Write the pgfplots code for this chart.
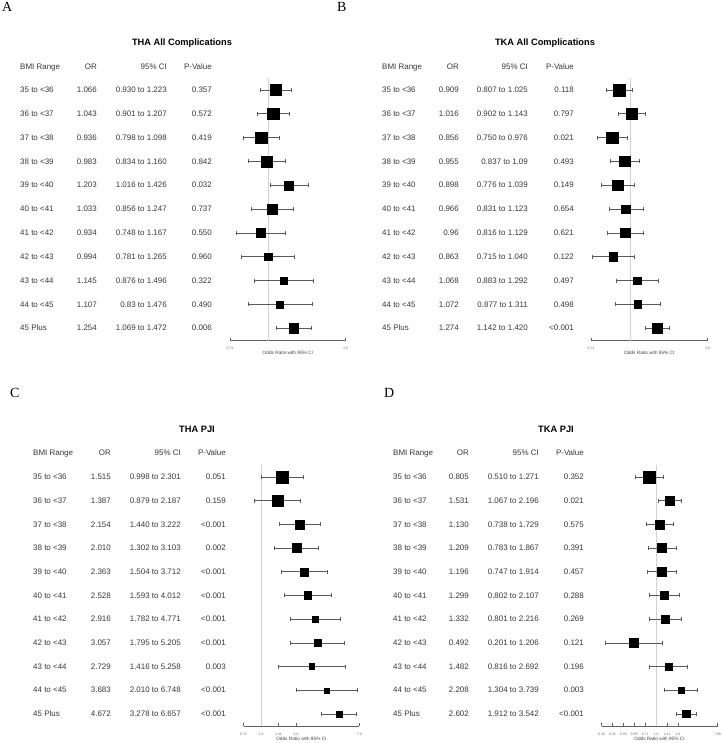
\documentclass[border=0pt]{standalone}
\usepackage{fontspec}
\setmainfont{Liberation Sans}
\newfontfamily\panelfont{Liberation Serif}
\usepackage{pgfplots}
\pgfplotsset{compat=1.18}
\usepackage{pgfplotstable}
\definecolor{txt}{HTML}{383838}
\definecolor{cil}{HTML}{5A5A5A}
\definecolor{refl}{HTML}{D2D2D2}
\definecolor{axl}{HTML}{606060}
\newcommand\fs[1]{\fontsize{#1}{#1}\selectfont}
\newcommand\setcols[4]{\def\ca{#1}\def\cb{#2}\def\cc{#3}\def\cd{#4}}
\newcommand\trow[5]{%
 \node[anchor=mid west,inner sep=0pt,text=txt,font=\fs{8}] at (\ca bp,{743bp-#1bp}) {#2};
 \node[anchor=mid east,inner sep=0pt,text=txt,font=\fs{8}] at (\cb bp,{743bp-#1bp}) {#3};
 \node[anchor=mid east,inner sep=0pt,text=txt,font=\fs{8}] at (\cc bp,{743bp-#1bp}) {#4};
 \node[anchor=mid east,inner sep=0pt,text=txt,font=\fs{8}] at (\cd bp,{743bp-#1bp}) {#5};}

% y = 12 - row ; s = square side (px)
\pgfplotstableread{
y or lo hi s
11 1.066 0.930 1.223 11.7
10 1.043 0.901 1.207 11.7
9 0.936 0.798 1.098 12.0
8 0.983 0.834 1.160 11.7
7 1.203 1.016 1.426 9.3
6 1.033 0.856 1.247 9.7
5 0.934 0.748 1.167 9.3
4 0.994 0.781 1.265 8.0
3 1.145 0.876 1.496 7.0
2 1.107 0.830 1.476 7.0
1 1.254 1.069 1.472 10.0
}\tA
\pgfplotstableread{
y or lo hi s
11 0.909 0.807 1.025 12.7
10 1.016 0.902 1.143 11.3
9 0.856 0.750 0.976 12.0
8 0.955 0.837 1.090 10.7
7 0.898 0.776 1.039 10.7
6 0.966 0.831 1.123 9.3
5 0.960 0.816 1.129 9.7
4 0.863 0.715 1.040 9.0
3 1.068 0.883 1.292 7.7
2 1.072 0.877 1.311 8.0
1 1.274 1.142 1.420 10.3
}\tB
\pgfplotstableread{
y or lo hi s
11 1.515 0.998 2.301 12.3
10 1.387 0.879 2.187 11.7
9 2.154 1.440 3.222 9.3
8 2.010 1.302 3.103 9.3
7 2.363 1.504 3.712 8.3
6 2.528 1.593 4.012 8.0
5 2.916 1.782 4.771 6.7
4 3.057 1.795 5.205 7.0
3 2.729 1.416 5.258 6.3
2 3.683 2.010 6.748 5.3
1 4.672 3.278 6.657 6.7
}\tC
\pgfplotstableread{
y or lo hi s
11 0.805 0.510 1.271 12.3
10 1.531 1.067 2.196 9.3
9 1.130 0.738 1.729 9.7
8 1.209 0.783 1.867 9.3
7 1.196 0.747 1.914 9.0
6 1.299 0.802 2.107 8.7
5 1.332 0.801 2.216 8.3
4 0.492 0.201 1.206 10.0
3 1.482 0.816 2.692 7.0
2 2.208 1.304 3.739 5.7
1 2.602 1.912 3.542 7.7
}\tD

\pgfplotsset{myforest/.style={scale only axis, anchor=south west,
  ymin=0.48, ymax=11.5, axis x line*=bottom, axis y line=none, clip=false,
  xminorticks=false, ytick=\empty,
  axis line style={draw=axl, line width=0.6bp},
  xtick style={draw=axl, line width=0.5bp}, xtick align=inside, major tick length=3bp,
  xticklabel style={font=\fs{3.5}, text=black!60, inner sep=0pt, anchor=north, yshift=-6.3bp},
  xlabel={Odds Ratio with 95\% CI},
  xlabel style={font=\fs{4.75}, text=black!75, inner sep=0pt, anchor=center,
    at={(axis description cs:0.5,0)}, yshift=-12.5bp}},
 myci/.style={only marks, mark=none, forget plot,
  error bars/x dir=both, error bars/x explicit, error bars/error mark=none,
  error bars/error bar style={draw=cil, line width=0.7bp}},
 mycap/.style={only marks, mark=|, mark size=2bp, forget plot,
  mark options={draw=cil, line width=0.6bp}},
 mysq/.style={scatter, only marks, mark=square*,
  scatter/use mapped color={draw=black, fill=black},
  point meta=\thisrow{s},
  visualization depends on={\thisrow{s}/2-0.2 \as \hs},
  scatter/@pre marker code/.append style={/tikz/mark size=\hs bp}}}

\newcommand\drawforest[1]{%
 \addplot[refl, line width=0.7bp, forget plot] coordinates {(1,0.48) (1,11.5)};
 \addplot[myci] table[x=or, y=y, x error plus expr=\thisrow{hi}-\thisrow{or},
   x error minus expr=\thisrow{or}-\thisrow{lo}] {#1};
 \addplot[mycap] table[x=lo, y=y] {#1};
 \addplot[mycap] table[x=hi, y=y] {#1};
 \addplot[mysq] table[x=or, y=y] {#1};}

\begin{document}
\begin{tikzpicture}
\useasboundingbox (0,0) rectangle (723bp,743bp);

% panel letters
\node[anchor=base west,inner sep=0pt,font=\panelfont\fs{14}] at (2bp,{743bp-11.7bp}) {A};
\node[anchor=base west,inner sep=0pt,font=\panelfont\fs{14}] at (337bp,{743bp-11.7bp}) {B};
\node[anchor=base west,inner sep=0pt,font=\panelfont\fs{14}] at (10bp,{743bp-398bp}) {C};
\node[anchor=base west,inner sep=0pt,font=\panelfont\fs{14}] at (384bp,{743bp-398bp}) {D};

% titles
\node[anchor=mid,inner sep=0pt,font=\bfseries\fs{9.3}] at (182bp,{743bp-43bp}) {THA All Complications};
\node[anchor=mid,inner sep=0pt,font=\bfseries\fs{9.3}] at (545bp,{743bp-43bp}) {TKA All Complications};
\node[anchor=mid,inner sep=0pt,font=\bfseries\fs{9.3}] at (197bp,{743bp-430bp}) {THA PJI};
\node[anchor=mid,inner sep=0pt,font=\bfseries\fs{9.3}] at (556bp,{743bp-430bp}) {TKA PJI};

% Panel A text
\setcols{20}{97}{167}{212}
\trow{67}{BMI Range}{OR}{95\% CI}{P-Value}
\trow{90}{35 to <36}{1.066}{0.930 to 1.223}{0.357}
\trow{113.8}{36 to <37}{1.043}{0.901 to 1.207}{0.572}
\trow{137.7}{37 to <38}{0.936}{0.798 to 1.098}{0.419}
\trow{161.5}{38 to <39}{0.983}{0.834 to 1.160}{0.842}
\trow{185.3}{39 to <40}{1.203}{1.016 to 1.426}{0.032}
\trow{209.2}{40 to <41}{1.033}{0.856 to 1.247}{0.737}
\trow{233}{41 to <42}{0.934}{0.748 to 1.167}{0.550}
\trow{256.8}{42 to <43}{0.994}{0.781 to 1.265}{0.960}
\trow{280.6}{43 to <44}{1.145}{0.876 to 1.496}{0.322}
\trow{304.5}{44 to <45}{1.107}{0.83 to 1.476}{0.490}
\trow{328.3}{45 Plus}{1.254}{1.069 to 1.472}{0.006}

% Panel B text
\setcols{382}{459}{528}{574}
\trow{67}{BMI Range}{OR}{95\% CI}{P-Value}
\trow{90}{35 to <36}{0.909}{0.807 to 1.025}{0.118}
\trow{113.8}{36 to <37}{1.016}{0.902 to 1.143}{0.797}
\trow{137.7}{37 to <38}{0.856}{0.750 to 0.976}{0.021}
\trow{161.5}{38 to <39}{0.955}{0.837 to 1.09}{0.493}
\trow{185.3}{39 to <40}{0.898}{0.776 to 1.039}{0.149}
\trow{209.2}{40 to <41}{0.966}{0.831 to 1.123}{0.654}
\trow{233}{41 to <42}{0.96}{0.816 to 1.129}{0.621}
\trow{256.8}{42 to <43}{0.863}{0.715 to 1.040}{0.122}
\trow{280.6}{43 to <44}{1.068}{0.883 to 1.292}{0.497}
\trow{304.5}{44 to <45}{1.072}{0.877 to 1.311}{0.498}
\trow{328.3}{45 Plus}{1.274}{1.142 to 1.420}{<0.001}

% Panel C text
\setcols{33}{111}{181}{226}
\trow{453}{BMI Range}{OR}{95\% CI}{P-Value}
\trow{477}{35 to <36}{1.515}{0.998 to 2.301}{0.051}
\trow{500.7}{36 to <37}{1.387}{0.879 to 2.187}{0.159}
\trow{524.4}{37 to <38}{2.154}{1.440 to 3.222}{<0.001}
\trow{548.1}{38 to <39}{2.010}{1.302 to 3.103}{0.002}
\trow{571.8}{39 to <40}{2.363}{1.504 to 3.712}{<0.001}
\trow{595.5}{40 to <41}{2.528}{1.593 to 4.012}{<0.001}
\trow{619.2}{41 to <42}{2.916}{1.782 to 4.771}{<0.001}
\trow{642.9}{42 to <43}{3.057}{1.795 to 5.205}{<0.001}
\trow{666.6}{43 to <44}{2.729}{1.416 to 5.258}{0.003}
\trow{690.3}{44 to <45}{3.683}{2.010 to 6.748}{<0.001}
\trow{714}{45 Plus}{4.672}{3.278 to 6.657}{<0.001}

% Panel D text
\setcols{393}{469}{539}{584}
\trow{453}{BMI Range}{OR}{95\% CI}{P-Value}
\trow{477}{35 to <36}{0.805}{0.510 to 1.271}{0.352}
\trow{500.7}{36 to <37}{1.531}{1.067 to 2.196}{0.021}
\trow{524.4}{37 to <38}{1.130}{0.738 to 1.729}{0.575}
\trow{548.1}{38 to <39}{1.209}{0.783 to 1.867}{0.391}
\trow{571.8}{39 to <40}{1.196}{0.747 to 1.914}{0.457}
\trow{595.5}{40 to <41}{1.299}{0.802 to 2.107}{0.288}
\trow{619.2}{41 to <42}{1.332}{0.801 to 2.216}{0.269}
\trow{642.9}{42 to <43}{0.492}{0.201 to 1.206}{0.121}
\trow{666.6}{43 to <44}{1.482}{0.816 to 2.692}{0.196}
\trow{690.3}{44 to <45}{2.208}{1.304 to 3.739}{0.003}
\trow{714}{45 Plus}{2.602}{1.912 to 3.542}{<0.001}

% Panel A plot
\begin{axis}[myforest, xmode=log, at={(230bp,402.3bp)}, width=115.7bp, height=262.6bp,
  xmin=0.7071, xmax=2, xtick={0.7071,2}, xticklabels={0.71,2.0}]
\drawforest{\tA}
\end{axis}
% Panel B plot
\begin{axis}[myforest, xmode=log, at={(591bp,402.3bp)}, width=116.7bp, height=262.6bp,
  xmin=0.7071, xmax=2, xtick={0.7071,2}, xticklabels={0.71,2.0}]
\drawforest{\tB}
\end{axis}
% Panel C plot
\begin{axis}[myforest, xmode=log, at={(243.5bp,16.7bp)}, width=115.8bp, height=261.2bp,
  xmin=0.7071, xmax=7, xtick={0.7071,1,1.4142,2,7}, xticklabels={0.71,1.0,1.41,2.0,7.0}]
\drawforest{\tC}
\end{axis}
% Panel D plot
\begin{axis}[myforest, xmode=log, at={(601.5bp,16.7bp)}, width=116bp, height=261.2bp,
  xmin=0.17678, xmax=7, xtick={0.17678,0.25,0.35355,0.5,0.7071,1,1.4142,2,7},
  xticklabels={0.18,0.25,0.35,0.50,0.71,1.0,1.41,2.0,7.00}]
\drawforest{\tD}
\end{axis}
\end{tikzpicture}
\end{document}
